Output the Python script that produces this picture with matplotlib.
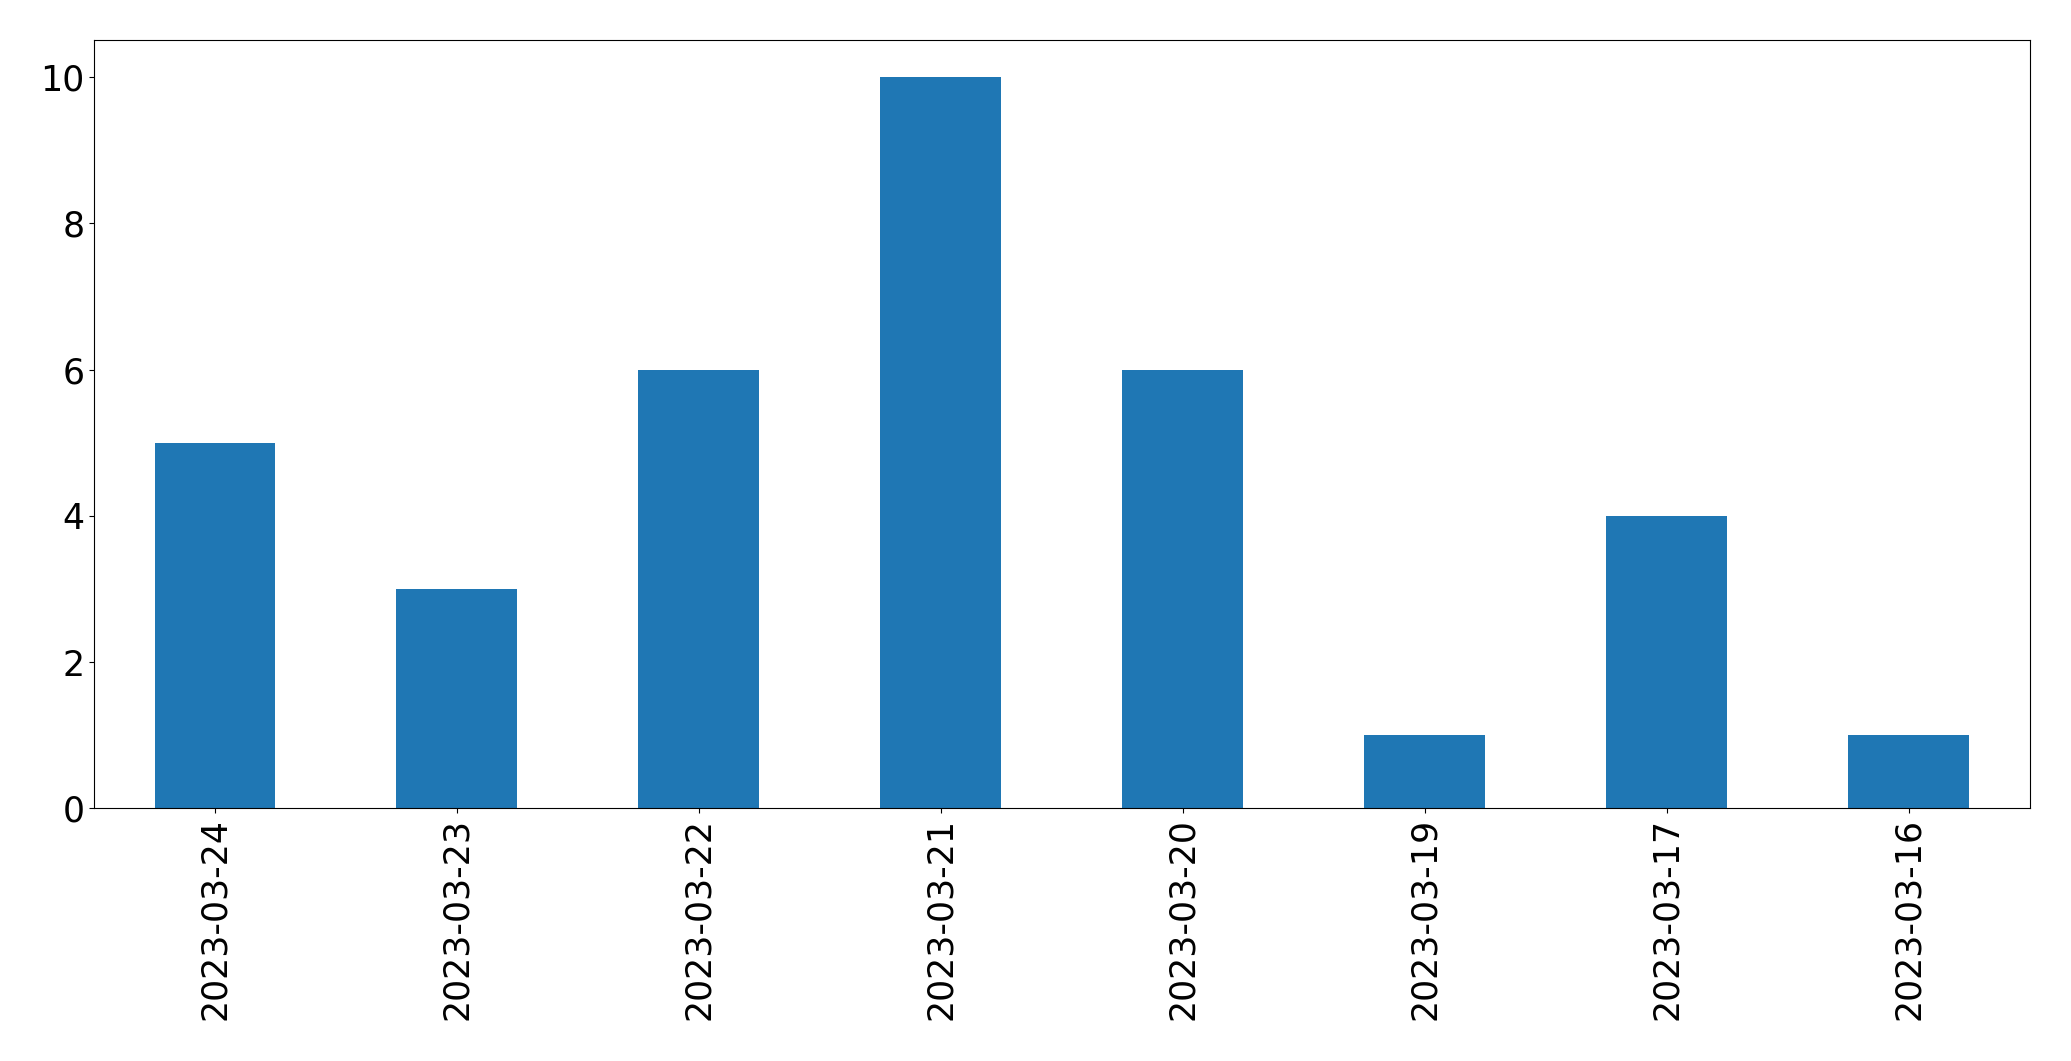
import matplotlib
matplotlib.use("Agg")
import matplotlib.pyplot as plt
import numpy as np

dates = ["2023-03-24", "2023-03-23", "2023-03-22", "2023-03-21",
         "2023-03-20", "2023-03-19", "2023-03-17", "2023-03-16"]
counts = [5, 3, 6, 10, 6, 1, 4, 1]

fig, ax = plt.subplots(figsize=(20.71, 10.61), dpi=100)
x = np.arange(len(dates))
ax.bar(x, counts, width=0.5, color="#1f77b4")
ax.set_xticks(x)
ax.set_xticklabels(dates, rotation=90, fontsize=25)
ax.tick_params(axis="y", labelsize=25)
ax.set_xlim(-0.5, len(dates) - 0.5)
ax.set_ylim(0, 10.5)
fig.subplots_adjust(left=0.0454, right=0.980, top=0.962, bottom=0.238)
fig.savefig("out.png", dpi=100)
